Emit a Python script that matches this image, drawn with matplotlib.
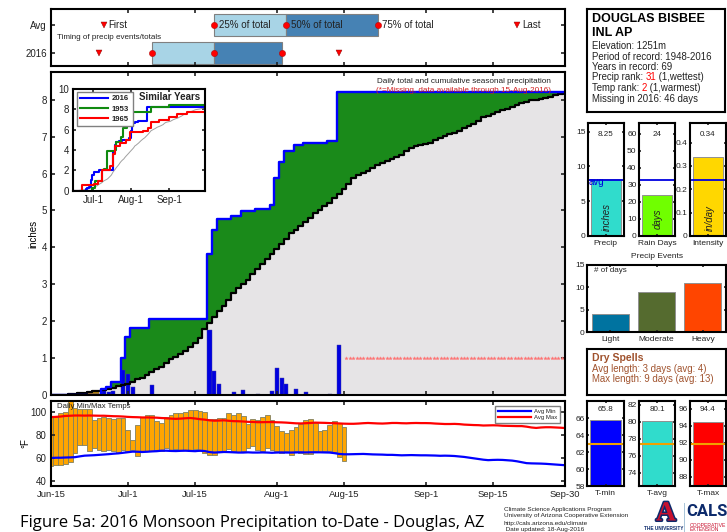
import numpy as np
import matplotlib
matplotlib.use("Agg")
import matplotlib.pyplot as plt
import matplotlib.patheffects as pe

plt.rcParams['font.family'] = ['Liberation Sans', 'DejaVu Sans']
plt.rcParams['font.size'] = 7
plt.rcParams['axes.linewidth'] = 1.5
plt.rcParams['text.color'] = '#222222'
plt.rcParams['xtick.color'] = '#222222'
plt.rcParams['ytick.color'] = '#222222'

W, H = 727, 532

# season axis, days after Jun-15
tick_days = [0, 16, 30, 47, 61, 78, 92, 107]
tick_labels = ['Jun-15', 'Jul-1', 'Jul-15', 'Aug-1', 'Aug-15', 'Sep-1', 'Sep-15', 'Sep-30']
days = np.arange(108)

# timing panel
avg_first, avg_last = 11, 97
obs_first, obs_last = 10, 60
avg_quart = [34, 49, 68]
obs_quart = [21, 34, 48]

# daily precip 2016
rain_days = [11, 12, 13, 15, 16, 17, 21, 33, 34, 35, 38, 40, 43, 46, 47, 48, 49, 51, 53, 58, 60]
rain_vals = [0.15, 0.07, 0.12, 0.67, 0.57, 0.23, 0.26, 1.75, 0.65, 0.29, 0.09, 0.14, 0.04, 0.12,
             0.72, 0.45, 0.29, 0.16, 0.07, 0.03, 1.35]

# average cumulative precip
avg_cum = [0.00, 0.00, 0.01, 0.01, 0.02, 0.03, 0.05, 0.06, 0.08, 0.10,
           0.12, 0.14, 0.17, 0.20, 0.24, 0.27, 0.31, 0.36, 0.42, 0.46,
           0.55, 0.63, 0.70, 0.77, 0.88, 0.98, 1.04, 1.10, 1.18, 1.30,
           1.42, 1.55, 1.78, 1.95, 2.10, 2.28, 2.42, 2.57, 2.75, 2.90,
           3.02, 3.12, 3.28, 3.42, 3.55, 3.68, 3.82, 3.95, 4.08, 4.22,
           4.40, 4.48, 4.58, 4.68, 4.80, 4.92, 5.02, 5.12, 5.20, 5.33,
           5.45, 5.58, 5.72, 5.88, 5.95, 6.02, 6.08, 6.15, 6.23, 6.28,
           6.33, 6.38, 6.44, 6.50, 6.62, 6.70, 6.74, 6.77, 6.80, 6.83,
           6.90, 6.97, 7.02, 7.07, 7.11, 7.15, 7.22, 7.28, 7.34, 7.42,
           7.52, 7.56, 7.60, 7.66, 7.72, 7.76, 7.80, 7.85, 7.90, 7.95,
           7.98, 8.00, 8.02, 8.04, 8.07, 8.12, 8.16, 8.18]

# similar years, inset
y1953_days = [0, 15, 18, 23, 25, 27, 34, 35, 39, 40, 44, 59, 63, 78, 107]
y1953_vals = [0, 0.3, 1.0, 2.0, 2.1, 3.9, 4.0, 4.8, 5.3, 6.2, 7.7, 7.7, 8.2, 8.45, 8.45]
y1965_days = [0, 7, 17, 20, 23, 30, 32, 34, 38, 43, 46, 57, 61, 63, 70, 78, 84, 92, 107]
y1965_vals = [0, 0.6, 0.7, 1.0, 2.0, 2.4, 3.6, 4.4, 4.7, 5.0, 5.8, 5.9, 6.2, 6.8, 7.0, 7.2, 7.55, 7.7, 7.7]

# daily temps, Jun-15 to Aug-15
temp_max = [96, 96, 99, 100, 110, 104, 103, 103, 103, 93, 95, 96, 95, 94, 95, 95, 85, 76, 89, 96,
            98, 98, 92, 91, 96, 98, 99, 99, 100, 102, 102, 101, 100, 94, 94, 95, 95, 99, 98, 99,
            97, 90, 94, 93, 96, 98, 93, 88, 83.5, 82, 85, 87, 90, 93, 94, 91, 83.5, 85, 89, 92,
            91, 87]
temp_min = [53, 54.5, 54.5, 55, 57, 64.6, 72, 72, 66, 69, 67.5, 66.7, 67.5, 66, 64.6, 67.5, 66.7, 67.5,
            61.7, 66.7, 66, 66, 67.5, 66, 69, 67.5, 68, 67.5, 67.5, 66.7, 68, 66, 64.6, 62.6, 62.6,
            66.7, 66, 68, 66, 65.5, 66, 69, 70.4, 67.5, 66.7, 69, 67.5, 66, 64.6, 66, 62.6, 66.7,
            64.6, 63.8, 63.8, 66.7, 65.5, 66, 66, 65.5, 61.4, 57.4]
avg_max = [95.8, 96, 96.3, 96.8, 97, 97.2, 97.2, 97.1, 97.2, 97.1,
           97, 97, 96.8, 96.6, 96.5, 96.3, 96, 95.8, 95.7, 95.5,
           95.5, 95.4, 95.3, 95, 94.8, 94.5, 94.3, 94.5, 94.8, 95,
           94.6, 94, 93.6, 93, 92.7, 92.8, 93, 92.6, 92.3, 92.2,
           92, 91.7, 91.6, 91.4, 91.4, 91.5, 91.5, 91.3, 91.2, 91,
           90.7, 90.4, 90.3, 90.5, 90.7, 91, 90.9, 90.8, 90.6, 90.5,
           90.3, 90.1, 90, 90, 90.2, 90.5, 90.7, 90.5, 90.3, 90.2,
           90.4, 90.7, 90.7, 90.5, 90.4, 90.6, 90.7, 90.6, 90.6, 90.5,
           90.2, 90, 89.8, 89.8, 89.9, 89.7, 89.3, 89.1, 88.9, 88.8,
           88.5, 88.6, 88.7, 88.6, 88.3, 88.2, 88.1, 88, 88, 87.5,
           86.8, 86.4, 86.8, 87, 87, 86.8, 86.6, 86.3]
avg_min = [60.3, 60.5, 60.5, 60.7, 60.8, 61, 61.7, 62.3, 62.5, 62.7,
           63, 63.3, 63.6, 64, 64.3, 64.8, 65.3, 65.8, 65.7, 65.5,
           65.7, 66, 66.2, 66.6, 66.6, 66.4, 66.3, 66.5, 66.6, 66.4,
           66.2, 66.6, 66.3, 65.4, 65, 65.2, 65.5, 65.4, 65.2, 65,
           65, 65.2, 65, 65, 65.1, 65, 64.8, 65, 65.1, 65,
           65, 65.1, 65.2, 65.1, 65.2, 65.2, 65.2, 65.1, 65, 64.5,
           63.8, 63.5, 63.5, 63.6, 63.7, 63.8, 63.6, 63.4, 63.3, 63.2,
           63, 63, 62.8, 62.6, 62.7, 62.8, 62.7, 62.6, 62.6, 62.5,
           62.4, 62.2, 62.3, 62.2, 62, 61.6, 61.2, 60.6, 60, 59.4,
           58.8, 58.4, 58.6, 58.7, 58.6, 58.3, 58, 57.4, 56.6, 55.8,
           55.6, 55.5, 55.4, 55.2, 54.9, 54.6, 54.3, 54]

# summary panels
precip_labels = ['Precip', 'Rain Days', 'Intensity']
precip_vals = [8.25, 24, 0.34]
precip_text = ['8.25', '24', '0.34']
precip_avg = [8.1, 33, 0.24]
event_labels = ['Light', 'Moderate', 'Heavy']
event_vals = [4, 9, 11]
temp_labels = ['T-min', 'T-avg', 'T-max']
temp_vals = [65.8, 80.1, 94.4]
temp_avg = [63, 77.4, 91.9]


def px_axes(l, t, r, b):
    ax = fig.add_axes([l / W, 1 - b / H, (r - l) / W, (b - t) / H])
    ax.tick_params(direction='in', length=3, width=1.2, top=True, right=True, labelsize=7, pad=3)
    return ax


def px_text(x, y, s, **kw):
    kw.setdefault('va', 'center')
    return fig.text(x / W, 1 - y / H, s, **kw)


fig = plt.figure(figsize=(W / 100, H / 100), dpi=100)

# timing of events
ax = px_axes(51, 9, 565, 66)
ax.set_xlim(0, 107)
ax.set_ylim(0.536, 2.57)
ax.set_xticks(tick_days)
ax.set_xticklabels([])
ax.set_yticks([1, 2])
ax.set_yticklabels(['2016', 'Avg'])
for yy, q, first, last in [(2, avg_quart, avg_first, avg_last), (1, obs_quart, obs_first, obs_last)]:
    ax.barh(yy, q[1] - q[0], left=q[0], height=0.79, color='#a8d4e6', edgecolor='#808080', lw=0.8)
    ax.barh(yy, q[2] - q[1], left=q[1], height=0.79, color='#4682b4', edgecolor='#808080', lw=0.8)
    ax.plot(q, [yy] * 3, 'o', color='red', ms=4.5, mec='#a00000', mew=0.3)
    ax.plot([first, last], [yy, yy], 'v', color='red', ms=5, mec='#800000', mew=0.3)
ax.text(avg_first + 1, 2, 'First', va='center', fontsize=7)
ax.text(avg_last + 1, 2, 'Last', va='center', fontsize=7)
for qd, lab in zip(avg_quart, ['25% of total', '50% of total', '75% of total']):
    ax.text(qd + 1, 2, lab, va='center', fontsize=7)
px_text(57, 37.7, 'Timing of precip events/totals', fontsize=5.8)

# cumulative precip
obs_daily = np.zeros(108)
obs_daily[rain_days] = rain_vals
obs_cum = np.cumsum(obs_daily)
avg_cum = np.array(avg_cum)

ax = px_axes(51, 72, 565, 395)
ax.set_xlim(0, 107)
ax.set_ylim(0, 8.75)
ax.fill_between(days, 0, avg_cum, step='mid', color='#e6e4e6', lw=0)
ax.fill_between(days, avg_cum, obs_cum, where=obs_cum >= avg_cum, step='mid', color='#1a8a1a', lw=0)
ax.fill_between(days, obs_cum, avg_cum, where=obs_cum < avg_cum, step='mid', color='#b8860b', lw=0)
ax.plot(days, avg_cum, color='black', lw=1.6, drawstyle='steps-mid')
ax.plot(days, obs_cum, color='#0000ff', lw=1.7, drawstyle='steps-mid')
ax.bar(rain_days, rain_vals, width=0.85, color='#0000e0', edgecolor='#4040a0', lw=0.3)
missing_x = np.arange(61.5, 107, 0.7)
ax.plot(missing_x, np.ones(len(missing_x)), ls='none', marker='*', ms=2.6, color='#ff7070', mew=0.2)
ax.set_xticks(tick_days)
ax.set_xticklabels([])
ax.set_yticks(range(9))
ax.set_ylabel('inches', fontsize=7, labelpad=2)
px_text(464, 81.5, 'Daily total and cumulative seasonal precipitation', fontsize=5.9, ha='center')
px_text(464, 91, '(*=Missing, data available through 15-Aug-2016)', fontsize=5.9, ha='center', color='#d02020')

# similar years inset
ins = px_axes(73.3, 89, 205, 190.7)
ins.plot(days, avg_cum, color='#a0a0a0', lw=0.7)
ins.plot(days, obs_cum, color='#0000ff', lw=1.5, drawstyle='steps-mid', label='2016')
ins.plot(y1953_days, y1953_vals, color='#108a10', lw=1.5, drawstyle='steps-post', label='1953')
ins.plot(y1965_days, y1965_vals, color='#ff0000', lw=1.5, drawstyle='steps-post', label='1965')
ins.set_xlim(0, 107)
ins.set_ylim(0, 10)
ins.set_xticks([16, 47, 78])
ins.set_xticklabels(['Jul-1', 'Aug-1', 'Sep-1'])
ins.set_yticks([0, 2, 4, 6, 8, 10])
ins.tick_params(length=2, labelsize=7)
leg = ins.legend(loc='upper left', bbox_to_anchor=(0.025, 0.975), borderaxespad=0, fontsize=5.6, fancybox=False,
                 edgecolor='#808080', framealpha=1, handlelength=3.6, labelspacing=0.35, borderpad=0.45, handletextpad=0.5)
for t in leg.get_texts():
    t.set_fontweight('bold')
px_text(170, 97, 'Similar Years', fontsize=7, fontweight='bold', ha='center')

# temperature
ax = px_axes(51, 401, 565, 485.7)
ax.bar(days[:len(temp_max)], np.array(temp_max) - np.array(temp_min), bottom=temp_min, width=1.0,
       color='#ffa500', edgecolor='#808060', lw=0.6)
ax.plot(days, avg_min, color='#0000ff', lw=1.6, label='Avg Min')
ax.plot(days, avg_max, color='#ff0000', lw=1.6, label='Avg Max')
ax.set_xlim(0, 107)
ax.set_ylim(36.2, 109.8)
ax.set_yticks([40, 60, 80, 100])
ax.set_xticks(tick_days)
ax.set_xticklabels(tick_labels, fontsize=6.8)
ax.set_ylabel('°F', fontsize=7, labelpad=0)
ax.legend(loc='upper right', bbox_to_anchor=(0.99, 0.94), borderaxespad=0, fontsize=4.3, fancybox=False,
          edgecolor='#808080', framealpha=1, handlelength=5.5, labelspacing=0.25, borderpad=0.4, handletextpad=0.6)
px_text(57, 406, 'Daily Min/Max Temps', fontsize=5.6)

# station box
bx = px_axes(587, 9, 725, 112)
bx.set_xticks([])
bx.set_yticks([])
px_text(592, 19, 'DOUGLAS BISBEE', fontsize=9, fontweight='bold', color='black')
px_text(592, 33.5, 'INL AP', fontsize=9, fontweight='bold', color='black')
px_text(592, 46, 'Elevation: 1251m', fontsize=6.9)
px_text(592, 56.5, 'Period of record: 1948-2016', fontsize=6.9)
px_text(592, 66.8, 'Years in record: 69', fontsize=6.9)
for yy, parts in [(77.3, ('Precip rank: ', '31', ' (1,wettest)')), (88, ('Temp rank: ', '2', ' (1,warmest)'))]:
    t0 = px_text(592, yy, parts[0], fontsize=6.9, va='baseline')
    t0.set_y(1 - (yy + 3) / H)
    t1 = bx.annotate(parts[1], xy=(1, 0), xycoords=t0, va='bottom', fontsize=6.9, color='red')
    bx.annotate(parts[2], xy=(1, 0), xycoords=t1, va='bottom', fontsize=6.9)
px_text(592, 98.5, 'Missing in 2016: 46 days', fontsize=6.9)

# precip summary
precip_ylim = [16.2, 66, 0.483]
precip_ticks = [[0, 5, 10, 15], [0, 10, 20, 30, 40, 50, 60], [0, 0.1, 0.2, 0.3, 0.4]]
precip_ticklabels = [['0', '5', '10', '15'], ['0', '10', '20', '30', '40', '50', '60'], ['0', '0.1', '0.2', '0.3', '0.4']]
precip_colors = ['#30dccc', '#70ff00', '#ffd700']
precip_units = ['inches', 'days', 'in/day']
unit_pos = [(606.7, 217), (657.7, 219), (710, 218)]
for i, (l, r) in enumerate([(587.7, 624), (638.7, 675), (689.7, 726)]):
    ax = px_axes(l, 123.3, r, 236)
    ax.bar([1], [precip_vals[i]], width=0.82, color=precip_colors[i], edgecolor='#909090', lw=0.7)
    ax.axhline(precip_avg[i], color='#0000e0', lw=1.3)
    ax.set_xlim(0.5, 1.5)
    ax.set_ylim(0, precip_ylim[i])
    ax.set_xticks([1])
    ax.set_xticklabels([precip_labels[i]], fontsize=6)
    ax.set_yticks(precip_ticks[i])
    ax.set_yticklabels(precip_ticklabels[i], fontsize=6)
    ax.tick_params(axis='y', pad=1.5, length=1.5)
    ax.tick_params(axis='x', length=1.5)
    ax.text(1, precip_ylim[i] * 0.905, precip_text[i], ha='center', va='center', fontsize=5.8)
    px_text(unit_pos[i][0], unit_pos[i][1], precip_units[i], rotation=90, style='italic',
            ha='center', fontsize=7)
px_text(596, 182, 'avg', fontsize=7, color='#0000e0', ha='center')
px_text(656.7, 256, 'Precip Events', fontsize=6, ha='center')

# events
ax = px_axes(586.7, 264.7, 726, 332.3)
ax.bar([1, 2, 3], event_vals, width=0.8, color=['#0073a0', '#556b2f', '#ff4500'], edgecolor='#909090', lw=0.7)
ax.set_xlim(0.49, 3.5)
ax.set_ylim(0, 15)
ax.set_xticks([1, 2, 3])
ax.set_xticklabels(event_labels, fontsize=6)
ax.set_yticks([0, 5, 10, 15])
ax.tick_params(axis='y', pad=1.5, length=1.5, labelsize=6)
ax.tick_params(axis='x', length=1.5)
px_text(594, 270.5, '# of days', fontsize=5.8)

# dry spells
bx = px_axes(586.7, 349.3, 726, 395)
bx.set_xticks([])
bx.set_yticks([])
px_text(592, 358, 'Dry Spells', fontsize=7.6, fontweight='bold', color='#a0522d')
px_text(592, 369, 'Avg length: 3 days (avg: 4)', fontsize=6.9, color='#a0522d')
px_text(592, 379.5, 'Max length: 9 days (avg: 13)', fontsize=6.9, color='#a0522d')

# temp summary
temp_ylim = [(58, 68.05), (72.43, 82.43), (86.9, 96.9)]
temp_ticks = [[58, 60, 62, 64, 66], [74, 76, 78, 80, 82], [88, 90, 92, 94, 96]]
temp_colors = ['#0000ff', '#30dccc', '#ff0000']
for i, (l, r) in enumerate([(587, 624), (638.7, 675.3), (690, 726)]):
    ax = px_axes(l, 401, r, 486)
    ax.bar([1], [temp_vals[i] - temp_ylim[i][0]], bottom=temp_ylim[i][0], width=0.82,
           color=temp_colors[i], edgecolor='#909090', lw=0.7)
    ax.axhline(temp_avg[i], color='#f0a000', lw=1.5)
    ax.set_xlim(0.5, 1.5)
    ax.set_ylim(temp_ylim[i])
    ax.set_xticks([1])
    ax.set_xticklabels([temp_labels[i]], fontsize=6)
    ax.set_yticks(temp_ticks[i])
    ax.tick_params(axis='y', pad=1.5, length=1.5, labelsize=6)
    ax.tick_params(axis='x', length=1.5)
    ax.text(1, temp_ylim[i][1] - 1.05, '%.1f' % temp_vals[i], ha='center', va='center', fontsize=5.8)

# footer
px_text(20, 523, 'Figure 5a: 2016 Monsoon Precipitation to-Date - Douglas, AZ', fontsize=12,
        family='Open Sans', color='black')
credits = ['Climate Science Applications Program', 'University of Arizona Cooperative Extension',
           'http://cals.arizona.edu/climate', ' Date updated: 18-Aug-2016']
for n, line in enumerate(credits):
    px_text(504, 509 + n * 7, line, fontsize=4.6)

navy = '#0c2a6b'
red = '#c8102e'
a = px_text(666, 514, 'A', fontsize=20, fontweight='bold', family='Liberation Serif', color=red, ha='center')
a.set_path_effects([pe.withStroke(linewidth=2.2, foreground=navy)])
px_text(663.5, 528, 'THE UNIVERSITY', fontsize=3.4, color=navy, ha='center', fontweight='bold')
fig.add_artist(plt.Line2D([684 / W, 684 / W], [1 - 503 / H, 0], color='#a8c4d8', lw=0.7))
px_text(706.5, 511.5, 'CALS', fontsize=12, fontweight='bold', color=navy, ha='center', family='Roboto')
px_text(690, 525.3, 'COOPERATIVE', fontsize=3.7, color=red)
px_text(690, 529.5, 'EXTENSION', fontsize=3.7, color=red)

fig.savefig('out.png', dpi=100)
